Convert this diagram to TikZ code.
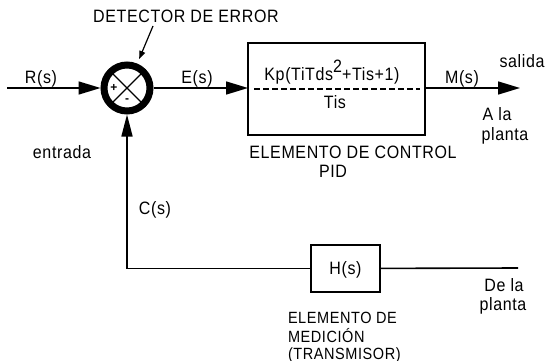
\documentclass[tikz,border=0pt]{standalone}
\usepackage{fontspec}
\setmainfont[LetterSpace=4]{Liberation Sans}
\usetikzlibrary{arrows.meta}
\newcommand{\tallt}[1]{\scalebox{1}[1.12]{#1}}
\begin{document}
\begin{tikzpicture}[x=1pt,y=-1pt,
  every node/.style={inner sep=0pt,outer sep=0pt},
  lbl/.style={anchor=base,font=\fontsize{16}{18}\selectfont},
  slbl/.style={anchor=base west,font=\fontsize{14.5}{16}\selectfont},
  wire/.style={line width=1.6pt},
  bigarrow/.style={wire,-{Triangle[length=22pt,width=13pt]}},
  smallarrow/.style={line width=1.2pt,-{Triangle[length=8pt,width=6pt]}},
  blk/.style={draw,line width=1.5pt}]
\useasboundingbox (0,0) rectangle (551,361);
% summing junction
\node[circle,draw,line width=7pt,minimum size=46pt,outer sep=3.5pt] (sum) at (127,88) {};
\draw[line width=1.3pt] ([shift={(45:19.5)}]sum.center) -- ([shift={(225:19.5)}]sum.center);
\draw[line width=1.3pt] ([shift={(135:19.5)}]sum.center) -- ([shift={(-45:19.5)}]sum.center);
\node[font=\fontsize{12}{12}\selectfont\bfseries] (plus) at (114,88) {+};
\node[font=\fontsize{12}{12}\selectfont\bfseries] (minus) at (127,101) {-};
% PID block
\node[blk,minimum width=177pt,minimum height=92pt] (pid) at (336.5,89) {};
\node[lbl] (num) at (332,80) {\tallt{Kp(TiTds\raisebox{0.42em}{2}+Tis+1)}};
\draw[line width=1.3pt,dash pattern=on 6pt off 3pt] ([xshift=6pt]pid.west) -- ([xshift=-5pt]pid.east);
\node[lbl] (den) at (335,108) {\tallt{Tis}};
% measurement block
\node[blk,minimum width=69pt,minimum height=47pt] (hb) at (345.5,268.5) {};
\node[lbl] (hs) at (345.5,274) {\tallt{H(s)}};
% coordinates
\coordinate (in) at (7,88);
\coordinate (out) at (520,88);
\coordinate (plant) at (518,268);
% connectors
\draw[bigarrow] (in) -- (sum);
\draw[bigarrow] (sum) -- (sum -| pid.west);
\draw[bigarrow] (pid.east |- sum) -- (out);
\draw[wire] (plant) -- (hb);
\draw[wire,-{Triangle[length=22pt,width=11pt]}] (hb.west) -| (sum.south);
% labels
\node[lbl] (det) at (186,23) {\tallt{DETECTOR DE ERROR}};
\coordinate (detf) at (153,26);
\draw[smallarrow,shorten >=5pt] (detf) -- (sum);
\node[lbl] (rs) at (41,83) {\tallt{R(s)}};
\node[lbl] (es) at (197,83) {\tallt{E(s)}};
\node[lbl] (ms) at (462,83) {\tallt{M(s)}};
\node[lbl] (sal) at (522,67) {\tallt{salida}};
\node[lbl] (ala) at (497,120) {\tallt{A la}};
\node[lbl] (pla) at (505,140) {\tallt{planta}};
\node[lbl] (ec) at (353,158) {\tallt{ELEMENTO DE CONTROL}};
\node[lbl] (pidl) at (333,177) {\tallt{PID}};
\node[lbl] (ent) at (62,158) {\tallt{entrada}};
\node[lbl] (cs) at (155,214) {\tallt{C(s)}};
\node[lbl] (dela) at (504,291) {\tallt{De la}};
\node[lbl] (pla2) at (503,310) {\tallt{planta}};
\node[slbl] (em) at (288,323) {\tallt{ELEMENTO DE}};
\node[slbl] (med) at (288,342) {\tallt{MEDICIÓN}};
\node[slbl] (tr) at (288,359) {\tallt{(TRANSMISOR)}};
\end{tikzpicture}
\end{document}
